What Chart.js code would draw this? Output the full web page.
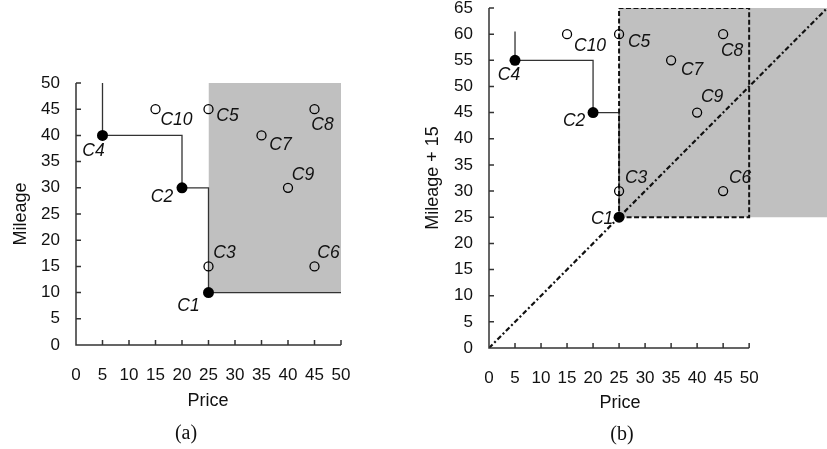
<!DOCTYPE html>
<html>
<head>
<meta charset="utf-8">
<script src="https://cdn.jsdelivr.net/npm/chart.js@4.4.0/dist/chart.umd.min.js"></script>
<style>
    html, body { margin: 0; padding: 0; background: #fff; overflow: hidden; width: 827px; height: 449px; }
    canvas { position: absolute; top: 0; }
    #chartA { left: 0; }
    #chartB { left: 413px; }
    .txt { position: absolute; transform: translate(-50%, -50%); white-space: nowrap; color: #111;
           font-family: "Liberation Sans", Arial, sans-serif; font-size: 18px; }
    .cap { font-family: "Liberation Serif", "Times New Roman", serif; font-size: 20px; }
</style>
</head>
<body>
<canvas id="chartA" width="413" height="449"></canvas>
<canvas id="chartB" width="420" height="449"></canvas>
<div class="txt" style="left:208px; top:400px;">Price</div>
<div class="txt" style="left:620px; top:402px;">Price</div>
<div class="txt cap" style="left:186px; top:432px;">(a)</div>
<div class="txt cap" style="left:622px; top:433px;">(b)</div>
<script>
// cars
const names = ['C1', 'C2', 'C3', 'C4', 'C5', 'C6', 'C7', 'C8', 'C9', 'C10'];
const price = [25, 20, 25, 5, 25, 45, 35, 45, 40, 15];
const mileage = [10, 30, 15, 40, 45, 15, 40, 45, 30, 45];
const mileagePlus15 = [25, 45, 30, 55, 60, 30, 55, 60, 45, 60];
const onSkyline = [true, true, false, true, false, false, false, false, false, false];

// skyline step lines
const stepAX = [5, 5, 20, 20, 25, 25, 50];
const stepAY = [50, 40, 40, 30, 30, 10, 10];
const stepBX = [5, 5, 20, 20, 25, 25];
const stepBY = [60.5, 55, 55, 45, 45, 25];

// dominated regions
const shadeAX = [25, 50];
const shadeAY = [10, 50];
const shadeBX = [25, 66];
const shadeBY = [25, 65];
const boxBX = [25, 50, 50, 25, 25];
const boxBY = [25, 25, 65, 65, 25];
const diagX = [0, 65];
const diagY = [0, 65];

const FONT = '"Liberation Sans", Arial, sans-serif';

function pts(xs, ys) {
    return xs.map((x, i) => ({x: x, y: ys[i]}));
}

function carPoints(ys, filled) {
    const out = [];
    names.forEach((n, i) => {
        if (onSkyline[i] === filled) out.push({x: price[i], y: ys[i]});
    });
    return out;
}

// axis lines with inward tick marks
const axesPlugin = {
    id: 'axesInward',
    afterDraw(chart, args, opts) {
        const {ctx, scales: {x, y}} = chart;
        const x0 = x.getPixelForValue(0), x1 = x.getPixelForValue(opts.xEnd);
        const y0 = y.getPixelForValue(0), y1 = y.getPixelForValue(opts.yEnd);
        ctx.save();
        ctx.strokeStyle = '#333';
        ctx.lineWidth = 1.5;
        ctx.beginPath();
        ctx.moveTo(x0, y1);
        ctx.lineTo(x0, y0);
        ctx.lineTo(x1, y0);
        x.ticks.forEach(t => {
            if (t.value > 0 && t.value <= opts.xEnd) {
                const px = x.getPixelForValue(t.value);
                ctx.moveTo(px, y0);
                ctx.lineTo(px, y0 - 5);
            }
        });
        y.ticks.forEach(t => {
            if (t.value > 0 && t.value <= opts.yEnd) {
                const py = y.getPixelForValue(t.value);
                ctx.moveTo(x0, py);
                ctx.lineTo(x0 + 5, py);
            }
        });
        ctx.stroke();
        ctx.restore();
    }
};

// C1..C10 tags, drawn right after the grey region
const tagPlugin = {
    id: 'carTags',
    afterDatasetDraw(chart, args, opts) {
        if (args.index !== 0) return;
        const {ctx, scales: {x, y}} = chart;
        ctx.save();
        ctx.font = 'italic 17.5px ' + FONT;
        ctx.fillStyle = '#111';
        ctx.textAlign = 'center';
        ctx.textBaseline = 'middle';
        names.forEach((n, i) => {
            const off = opts.offsets[i];
            ctx.fillText(n, x.getPixelForValue(price[i]) + off[0], y.getPixelForValue(opts.ys[i]) + off[1]);
        });
        ctx.restore();
    }
};

function noPad(s) {
    s.paddingTop = 0;
    s.paddingBottom = 0;
    s.paddingLeft = 0;
    s.paddingRight = 0;
}

function scales(xMax, yMax, yTitle, titlePad) {
    return {
        x: {
            type: 'linear', min: 0, max: xMax,
            grid: {display: false, drawTicks: false},
            border: {display: false},
            ticks: {
                stepSize: 5, padding: 20, autoSkip: false, maxRotation: 0, color: '#111',
                font: {family: FONT, size: 17},
                callback: v => (v <= 50 ? v : '')
            },
            afterFit: s => { s.height = 45; noPad(s); }
        },
        y: {
            type: 'linear', min: 0, max: yMax,
            grid: {display: false, drawTicks: false},
            border: {display: false},
            ticks: {stepSize: 5, padding: 16, autoSkip: false, color: '#111', font: {family: FONT, size: 17}},
            title: {display: true, text: yTitle, color: '#111', font: {family: FONT, size: 18}, padding: {top: titlePad, bottom: 0}},
            afterFit: s => { s.width = 76; noPad(s); }
        }
    };
}

const chartA = new Chart(document.getElementById('chartA').getContext('2d'), {
    type: 'scatter',
    data: {
        datasets: [
            {
                data: [{x: shadeAX[0], y: shadeAY[1]}, {x: shadeAX[1], y: shadeAY[1]}],
                showLine: true, borderWidth: 0, pointRadius: 0,
                backgroundColor: '#c0c0c0', fill: {value: shadeAY[0]}, order: 10
            },
            {
                data: pts(stepAX, stepAY),
                showLine: true, borderColor: '#333', borderWidth: 1.3, pointRadius: 0, fill: false, order: 5
            },
            {
                data: carPoints(mileage, false),
                pointRadius: 4.5, pointBorderWidth: 1.3, pointBorderColor: '#000',
                pointBackgroundColor: 'rgba(0,0,0,0)', order: 2
            },
            {
                data: carPoints(mileage, true),
                pointRadius: 5.5, pointBorderWidth: 0, pointBackgroundColor: '#000', order: 1
            }
        ]
    },
    options: {
        responsive: false,
        animation: false,
        layout: {padding: {top: 83, right: 72, bottom: 59, left: 0}},
        scales: scales(50, 50, 'Mileage', 10),
        plugins: {
            legend: {display: false},
            tooltip: {enabled: false},
            axesInward: {xEnd: 50, yEnd: 50},
            carTags: {
                ys: mileage,
                offsets: [[-20, 14], [-20, 9], [16, -13], [-9, 16], [19, 7], [14, -13], [19, 10], [8, 16], [15, -13], [21, 11]]
            }
        }
    },
    plugins: [axesPlugin, tagPlugin]
});

const chartB = new Chart(document.getElementById('chartB').getContext('2d'), {
    type: 'scatter',
    data: {
        datasets: [
            {
                data: [{x: shadeBX[0], y: shadeBY[1]}, {x: shadeBX[1], y: shadeBY[1]}],
                showLine: true, borderWidth: 0, pointRadius: 0,
                backgroundColor: '#c0c0c0', fill: {value: shadeBY[0]}, order: 10
            },
            {
                data: pts(stepBX, stepBY),
                showLine: true, borderColor: '#333', borderWidth: 1.3, pointRadius: 0, fill: false, order: 5
            },
            {
                data: pts(boxBX, boxBY),
                showLine: true, borderColor: '#111', borderWidth: 2, borderDash: [5, 2.5],
                pointRadius: 0, fill: false, order: 4
            },
            {
                data: pts(diagX, diagY),
                showLine: true, borderColor: '#111', borderWidth: 2.2, borderDash: [5, 2.5, 2, 2.5],
                pointRadius: 0, fill: false, order: 3
            },
            {
                data: carPoints(mileagePlus15, false),
                pointRadius: 4.5, pointBorderWidth: 1.3, pointBorderColor: '#000',
                pointBackgroundColor: 'rgba(0,0,0,0)', order: 2
            },
            {
                data: carPoints(mileagePlus15, true),
                pointRadius: 5.5, pointBorderWidth: 0, pointBackgroundColor: '#000', order: 1
            }
        ]
    },
    options: {
        responsive: false,
        animation: false,
        layout: {padding: {top: 8, right: 3, bottom: 56, left: 0}},
        scales: scales(65, 65, 'Mileage + 15', 9),
        plugins: {
            legend: {display: false},
            tooltip: {enabled: false},
            axesInward: {xEnd: 50, yEnd: 65},
            carTags: {
                ys: mileagePlus15,
                offsets: [[-17, 2], [-19, 9], [17, -13], [-6, 15], [20, 8], [17, -13], [21, 10], [9, 17], [15, -15], [23, 12]]
            }
        }
    },
    plugins: [axesPlugin, tagPlugin]
});
</script>
</body>
</html>
